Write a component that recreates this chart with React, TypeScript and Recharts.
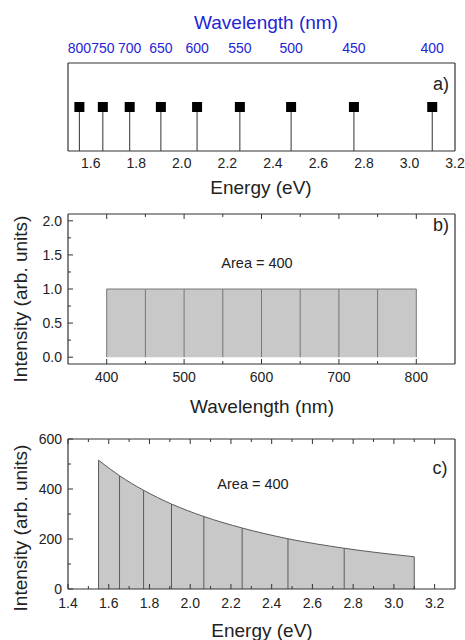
import { Area, ComposedChart, ReferenceLine, Scatter, XAxis, YAxis } from "recharts";

// photon wavelengths (nm) and matching photon energies (eV)
const wavelengths = [800, 750, 700, 650, 600, 550, 500, 450, 400];
const photonEnergies = [1.55, 1.653, 1.771, 1.908, 2.067, 2.255, 2.48, 2.756, 3.1];
const stemLevels = [0.5, 0.5, 0.5, 0.5, 0.5, 0.5, 0.5, 0.5, 0.5];
const flatIntensity = [1, 1, 1, 1, 1, 1, 1, 1, 1];
const energyIntensity = [515, 453, 395, 340, 290, 244, 201, 163, 129];

// axis ticks
const energyTicksA = [1.6, 1.8, 2.0, 2.2, 2.4, 2.6, 2.8, 3.0, 3.2];
const wlTicksB = [400, 500, 600, 700, 800];
const wlMinorB = [450, 550, 650, 750];
const intTicksB = [0, 0.5, 1.0, 1.5, 2.0];
const intMinorB = [0.25, 0.75, 1.25, 1.75];
const energyTicksC = [1.4, 1.6, 1.8, 2.0, 2.2, 2.4, 2.6, 2.8, 3.0, 3.2];
const energyMinorC = [1.5, 1.7, 1.9, 2.1, 2.3, 2.5, 2.7, 2.9, 3.1];
const intTicksC = [0, 200, 400, 600];
const intMinorC = [100, 300, 500];

const stemData = photonEnergies.map((e, i) => ({ energy: e, level: stemLevels[i] }));
const flatData = wavelengths
  .map((w, i) => ({ wl: w, v: flatIntensity[i] }))
  .sort((a, b) => a.wl - b.wl);
const curveData = photonEnergies.map((e, i) => ({ energy: e, v: energyIntensity[i] }));

const FONT = "'Liberation Sans', Arial, sans-serif";
const INK = "#222";
const FRAME = "#333";
const BLUE = "#2424d6";
const FILL = "#c8c8c8";
const EDGE = "#5a5a5a";

type Side = "bottom" | "top" | "left" | "right";

function makeTick(
  side: Side,
  major: number[],
  fmt: ((v: number) => string) | null,
  offset: number,
  showMarks = true,
  color = INK
) {
  return (props: any) => {
    const { x, y, payload } = props;
    const v = payload.value as number;
    const isMajor = major.some((m) => Math.abs(m - v) < 1e-6);
    const len = isMajor ? 5 : 3;
    let mark = null;
    if (showMarks) {
      if (side === "bottom") mark = <line x1={x} x2={x} y1={y} y2={y - len} stroke={FRAME} />;
      if (side === "top") mark = <line x1={x} x2={x} y1={y} y2={y + len} stroke={FRAME} />;
      if (side === "left") mark = <line x1={x} x2={x + len} y1={y} y2={y} stroke={FRAME} />;
      if (side === "right") mark = <line x1={x} x2={x - len} y1={y} y2={y} stroke={FRAME} />;
    }
    let label = null;
    if (fmt && isMajor) {
      if (side === "bottom" || side === "top")
        label = (
          <text x={x} y={y + offset} textAnchor="middle" fontSize={14} fontFamily={FONT} fill={color}>
            {fmt(v)}
          </text>
        );
      else
        label = (
          <text x={x - offset} y={y + 5} textAnchor="end" fontSize={14} fontFamily={FONT} fill={color}>
            {fmt(v)}
          </text>
        );
    }
    return (
      <g>
        {mark}
        {label}
      </g>
    );
  };
}

function TopWavelengthTick(props: any) {
  const { x, y, index } = props;
  return (
    <text x={x} y={y - 10} textAnchor="middle" fontSize={14} fontFamily={FONT} fill={BLUE}>
      {wavelengths[index]}
    </text>
  );
}

function Txt({
  x,
  y,
  size = 19,
  color = INK,
  rotate = false,
  children,
}: {
  x: number;
  y: number;
  size?: number;
  color?: string;
  rotate?: boolean;
  children: React.ReactNode;
}) {
  return (
    <div
      style={{
        position: "absolute",
        left: x,
        top: y,
        transform: `translate(-50%, -50%)${rotate ? " rotate(-90deg)" : ""}`,
        fontSize: size,
        fontFamily: FONT,
        color,
        whiteSpace: "nowrap",
        lineHeight: 1,
      }}
    >
      {children}
    </div>
  );
}

const axisLine = { stroke: FRAME, strokeWidth: 1.2 };

export default function App() {
  return (
    <div style={{ position: "absolute", left: 0, top: 0, width: 465, height: 640, background: "#fff" }}>
      {/* a) photon energies as stems */}
      <div style={{ position: "absolute", left: 0, top: 0 }}>
        <ComposedChart width={465} height={200} data={stemData} margin={{ top: 0, right: 9, bottom: 0, left: 67 }}>
          <XAxis
            xAxisId="top"
            orientation="top"
            type="number"
            dataKey="energy"
            domain={[1.5, 3.2]}
            allowDataOverflow
            ticks={photonEnergies}
            interval={0}
            height={63}
            tickSize={0}
            tickMargin={0}
            tickLine={false}
            axisLine={axisLine}
            tick={<TopWavelengthTick />}
          />
          <XAxis
            xAxisId="bottom"
            type="number"
            dataKey="energy"
            domain={[1.5, 3.2]}
            allowDataOverflow
            ticks={energyTicksA}
            interval={0}
            height={49}
            tickSize={0}
            tickMargin={0}
            tickLine={false}
            axisLine={axisLine}
            tick={makeTick("bottom", energyTicksA, (v) => v.toFixed(1), 17, false)}
          />
          <YAxis yAxisId="l" type="number" dataKey="level" domain={[0, 1]} width={1} tick={false} tickLine={false} axisLine={axisLine} />
          <YAxis yAxisId="r" orientation="right" type="number" domain={[0, 1]} width={1} tick={false} tickLine={false} axisLine={axisLine} />
          {stemData.map((d) => (
            <ReferenceLine
              key={d.energy}
              xAxisId="bottom"
              yAxisId="l"
              segment={[
                { x: d.energy, y: 0 },
                { x: d.energy, y: d.level },
              ]}
              stroke="#333"
              strokeWidth={1}
            />
          ))}
          <Scatter
            xAxisId="bottom"
            yAxisId="l"
            dataKey="level"
            isAnimationActive={false}
            shape={(p: any) => <rect x={p.cx - 5} y={p.cy - 5} width={10} height={10} fill="#000" />}
          />
        </ComposedChart>
      </div>

      {/* b) flat spectrum vs wavelength */}
      <div style={{ position: "absolute", left: 0, top: 200 }}>
        <ComposedChart width={465} height={220} data={flatData} margin={{ top: 13, right: 9, bottom: 0, left: 0 }}>
          <XAxis
            xAxisId="b"
            type="number"
            dataKey="wl"
            domain={[350, 850]}
            ticks={[...wlTicksB, ...wlMinorB]}
            interval={0}
            height={56}
            tickSize={0}
            tickMargin={0}
            tickLine={false}
            axisLine={axisLine}
            tick={makeTick("bottom", wlTicksB, (v) => String(v), 18)}
          />
          <XAxis
            xAxisId="t"
            orientation="top"
            type="number"
            dataKey="wl"
            domain={[350, 850]}
            ticks={[...wlTicksB, ...wlMinorB]}
            interval={0}
            height={1}
            tickSize={0}
            tickMargin={0}
            tickLine={false}
            axisLine={axisLine}
            tick={makeTick("top", wlTicksB, null, 0)}
          />
          <YAxis
            yAxisId="l"
            type="number"
            domain={[-0.1, 2.1]}
            ticks={[...intTicksB, ...intMinorB]}
            interval={0}
            width={68}
            tickSize={0}
            tickMargin={0}
            tickLine={false}
            axisLine={axisLine}
            tick={makeTick("left", intTicksB, (v) => v.toFixed(1), 6)}
          />
          <YAxis
            yAxisId="r"
            orientation="right"
            type="number"
            domain={[-0.1, 2.1]}
            ticks={[...intTicksB, ...intMinorB]}
            interval={0}
            width={1}
            tickSize={0}
            tickMargin={0}
            tickLine={false}
            axisLine={axisLine}
            tick={makeTick("right", intTicksB, null, 0)}
          />
          <Area
            xAxisId="b"
            yAxisId="l"
            dataKey="v"
            type="linear"
            baseValue={0}
            fill={FILL}
            fillOpacity={1}
            stroke="#777"
            strokeWidth={1}
            dot={false}
            activeDot={false}
            isAnimationActive={false}
          />
          {flatData.map((d) => (
            <ReferenceLine
              key={d.wl}
              xAxisId="b"
              yAxisId="l"
              segment={[
                { x: d.wl, y: 0 },
                { x: d.wl, y: d.v },
              ]}
              stroke="#777"
              strokeWidth={1}
            />
          ))}
        </ComposedChart>
      </div>

      {/* c) same spectrum vs energy */}
      <div style={{ position: "absolute", left: 0, top: 420 }}>
        <ComposedChart width={465} height={220} data={curveData} margin={{ top: 18, right: 9, bottom: 0, left: 0 }}>
          <XAxis
            xAxisId="b"
            type="number"
            dataKey="energy"
            domain={[1.4, 3.3]}
            ticks={[...energyTicksC, ...energyMinorC]}
            interval={0}
            height={51}
            tickSize={0}
            tickMargin={0}
            tickLine={false}
            axisLine={axisLine}
            tick={makeTick("bottom", energyTicksC, (v) => v.toFixed(1), 19)}
          />
          <XAxis
            xAxisId="t"
            orientation="top"
            type="number"
            dataKey="energy"
            domain={[1.4, 3.3]}
            ticks={[...energyTicksC, ...energyMinorC]}
            interval={0}
            height={1}
            tickSize={0}
            tickMargin={0}
            tickLine={false}
            axisLine={axisLine}
            tick={makeTick("top", energyTicksC, null, 0)}
          />
          <YAxis
            yAxisId="l"
            type="number"
            domain={[0, 600]}
            ticks={[...intTicksC, ...intMinorC]}
            interval={0}
            width={68}
            tickSize={0}
            tickMargin={0}
            tickLine={false}
            axisLine={axisLine}
            tick={makeTick("left", intTicksC, (v) => String(v), 6)}
          />
          <YAxis
            yAxisId="r"
            orientation="right"
            type="number"
            domain={[0, 600]}
            ticks={[...intTicksC, ...intMinorC]}
            interval={0}
            width={1}
            tickSize={0}
            tickMargin={0}
            tickLine={false}
            axisLine={axisLine}
            tick={makeTick("right", intTicksC, null, 0)}
          />
          <Area
            xAxisId="b"
            yAxisId="l"
            dataKey="v"
            type="monotone"
            baseValue={0}
            fill={FILL}
            fillOpacity={1}
            stroke={EDGE}
            strokeWidth={1}
            dot={false}
            activeDot={false}
            isAnimationActive={false}
          />
          {curveData.map((d) => (
            <ReferenceLine
              key={d.energy}
              xAxisId="b"
              yAxisId="l"
              segment={[
                { x: d.energy, y: 0 },
                { x: d.energy, y: d.v },
              ]}
              stroke={EDGE}
              strokeWidth={1}
            />
          ))}
        </ComposedChart>
      </div>

      <Txt x={266} y={22} color={BLUE}>Wavelength (nm)</Txt>
      <Txt x={441} y={84} size={18}>a)</Txt>
      <Txt x={261} y={187}>Energy (eV)</Txt>

      <Txt x={20} y={299} rotate>Intensity (arb. units)</Txt>
      <Txt x={257} y={263} size={14.5}>Area = 400</Txt>
      <Txt x={441} y={225} size={18}>b)</Txt>
      <Txt x={262} y={406}>Wavelength (nm)</Txt>

      <Txt x={20} y={528} rotate>Intensity (arb. units)</Txt>
      <Txt x={253} y={484} size={14.5}>Area = 400</Txt>
      <Txt x={440} y={468} size={18}>c)</Txt>
      <Txt x={262} y={630}>Energy (eV)</Txt>
    </div>
  );
}
